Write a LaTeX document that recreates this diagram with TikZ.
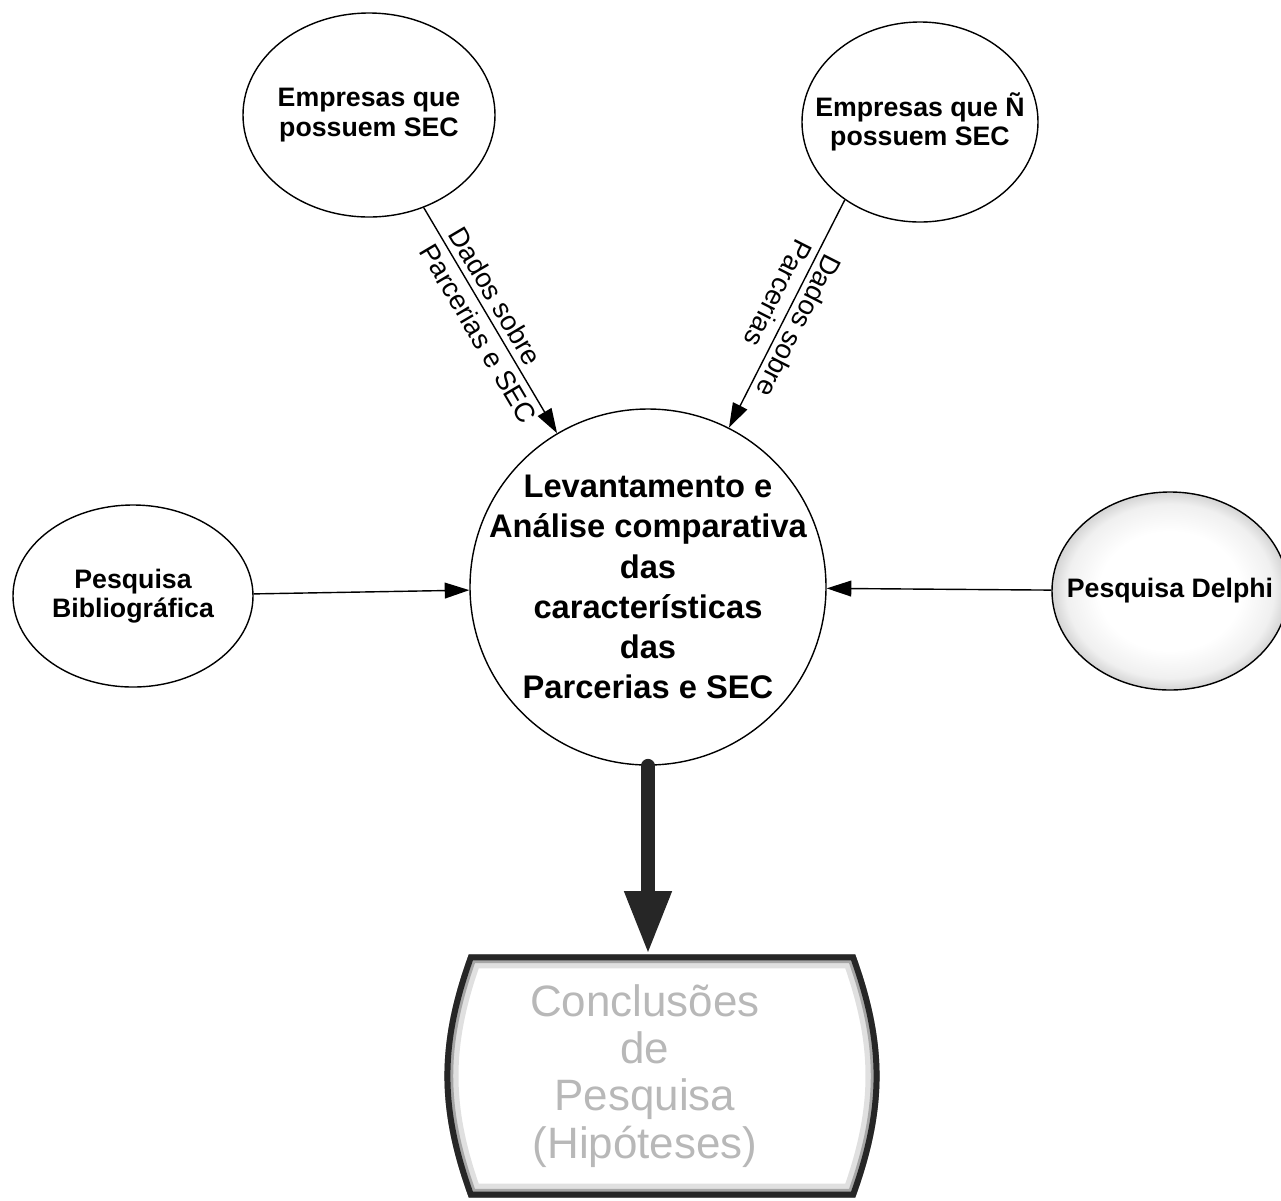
\documentclass[tikz,border=0pt]{standalone}
\usepackage{fontspec}
\setmainfont{Liberation Sans}
\usetikzlibrary{shapes.geometric,arrows.meta}
\pgfdeclareradialshading{delphi}{\pgfpoint{0bp}{0bp}}{color(0bp)=(white);color(15bp)=(white);color(22bp)=(black!6);color(25bp)=(black!17);color(50bp)=(black!17)}

\begin{document}
\begin{tikzpicture}[>={Triangle[length=7pt,width=4.5pt]},
 bubble/.style={draw,ellipse,inner sep=0pt},
 txt/.style={align=center,font=\bfseries\fontsize{7.6}{8.3}\selectfont},
 tag/.style={sloped,align=left,inner sep=1pt,font=\fontsize{7.8}{9.5}\selectfont}]
\useasboundingbox (0,0) rectangle (12.81,-12);

\node(E)[bubble,minimum width=2.52cm,minimum height=2.04cm,label={[txt]center:Empresas que\\possuem SEC}] at (3.69,-1.15) {};
\node(N)[bubble,minimum width=2.36cm,minimum height=2.0cm,label={[txt]center:Empresas que Ñ\\possuem SEC}] at (9.20,-1.22) {};
\node(C)[draw,circle,minimum size=3.56cm,inner sep=0pt,label={[txt,font=\bfseries\fontsize{9.3}{11.4}\selectfont]center:Levantamento e\\Análise comparativa\\das\\características\\das\\Parcerias e SEC}] at (6.48,-5.87) {};
\node(B)[bubble,minimum width=2.40cm,minimum height=1.82cm,label={[txt]center:Pesquisa\\Bibliográfica}] at (1.33,-5.96) {};
\node(P)[bubble,shade,shading=delphi,minimum width=2.36cm,minimum height=1.98cm,label={[txt]center:Pesquisa Delphi}] at (11.70,-5.91) {};
\node(K)[minimum width=3.85cm,minimum height=2.42cm,inner sep=0pt,label={[xshift=-0.17cm,align=center,text=black!28,font=\fontsize{12.5}{13.4}\selectfont]center:Conclusões\\de\\Pesquisa\\(Hipóteses)}] at (6.62,-10.76) {};

\begin{scope}
\clip (K.north west) -- (K.north east) to[bend left=20] (K.south east) -- (K.south west) to[bend left=20] (K.north west) -- cycle;
\foreach \w/\c in {8pt/black!12,5pt/black!35,3.4pt/black!85}
  \draw[line width=\w,\c] (K.north west) -- (K.north east) to[bend left=20] (K.south east) -- (K.south west) to[bend left=20] (K.north west) -- cycle;
\end{scope}

\draw[->] (E) -- node[tag,pos=0.52]{Dados sobre\\Parcerias e SEC} (C);
\draw[->] (N.226) -- node[tag,pos=0.52,allow upside down]{Dados sobre\\Parcerias} (C);
\draw[->] (B) -- (C);
\draw[->] (P) -- (C);
\draw[line width=3.9pt,line cap=round,black!85,-{Triangle[length=18pt,width=12.5pt]}] (C.south) -- (C.south |- K.north);

\end{tikzpicture}
\end{document}
